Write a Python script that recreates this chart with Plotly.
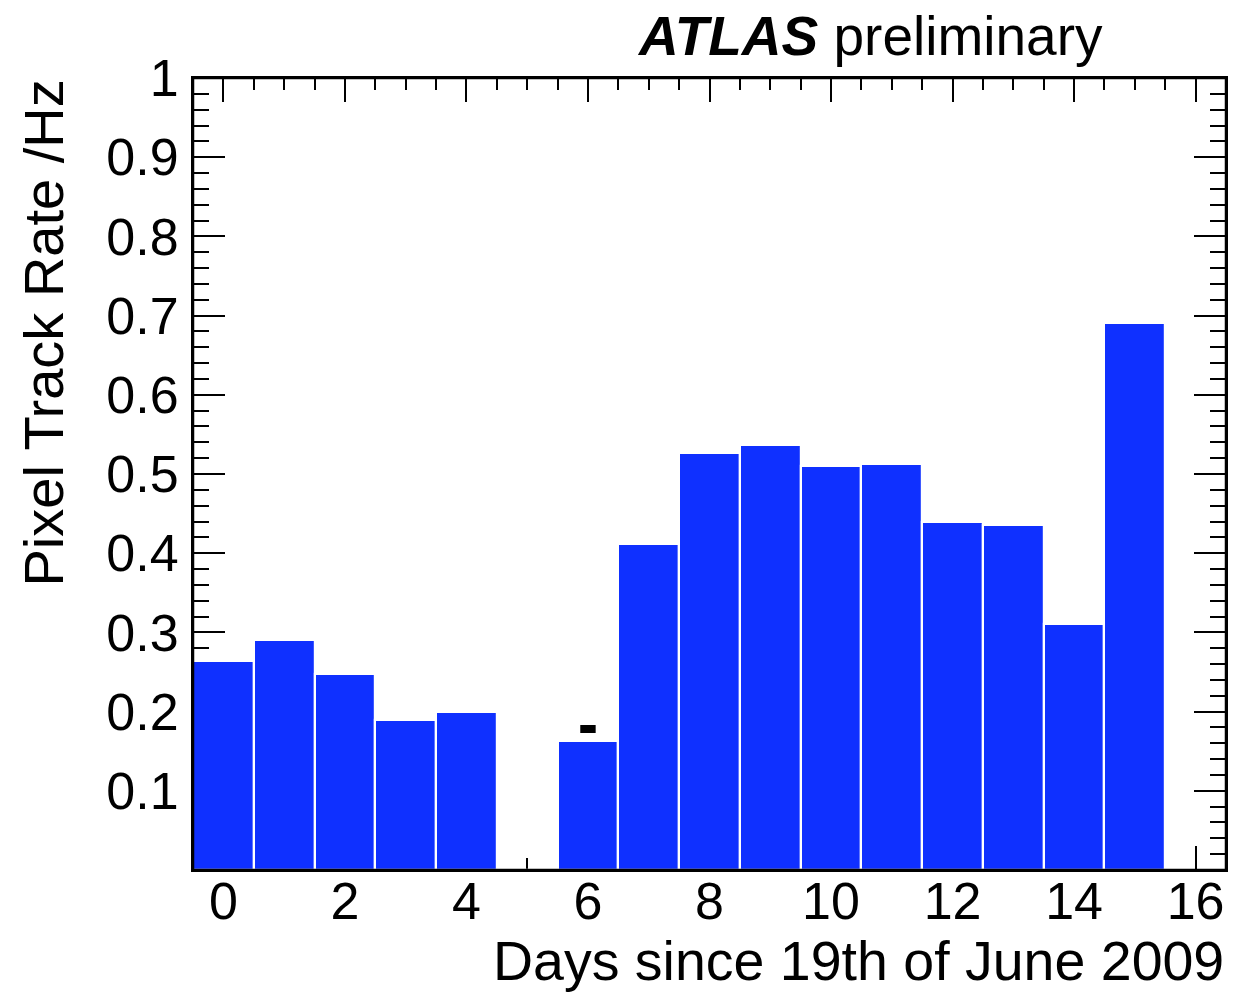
import plotly.graph_objects as go

# Daily pixel track rate (Hz) per day since 19 June 2009
days = [0, 1, 2, 3, 4, 5, 6, 7, 8, 9, 10, 11, 12, 13, 14, 15]
rates = [0.264, 0.290, 0.247, 0.190, 0.200, 0.0, 0.163, 0.412,
         0.526, 0.536, 0.510, 0.513, 0.439, 0.436, 0.311, 0.691]

# Single point marker drawn above day 6
point_days = [6]
point_rates = [0.178]

y_tick_vals = [0.1, 0.2, 0.3, 0.4, 0.5, 0.6, 0.7, 0.8, 0.9, 1.0]
y_tick_text = ["0.1", "0.2", "0.3", "0.4", "0.5", "0.6", "0.7", "0.8", "0.9", "1"]
x_tick_vals = [0, 2, 4, 6, 8, 10, 12, 14, 16]

FONT = "Liberation Sans, Arial, Helvetica, sans-serif"
BLUE = "#0f30ff"

fig = go.Figure()
fig.add_trace(go.Bar(
    x=days, y=rates, width=1.0,
    marker=dict(color=BLUE, line=dict(color="white", width=2.2)),
    showlegend=False, hoverinfo="x+y",
))
fig.add_trace(go.Scatter(
    x=point_days, y=point_rates, mode="markers",
    marker=dict(symbol="line-ew", size=11, line=dict(color="black", width=8)),
    showlegend=False,
))

fig.update_layout(
    width=1249, height=994,
    margin=dict(l=193, r=23, t=78, b=124),
    paper_bgcolor="white", plot_bgcolor="white",
    bargap=0,
    font=dict(family=FONT, color="black", size=52),
    xaxis=dict(
        range=[-0.5, 16.5], showgrid=False, zeroline=False,
        tickmode="array", tickvals=x_tick_vals,
        ticks="inside", ticklen=24, tickwidth=2, tickcolor="black",
        minor=dict(dtick=0.5, tick0=0, ticks="inside", ticklen=12,
                   tickwidth=2, tickcolor="black"),
        mirror="ticks", showline=True, linecolor="black", linewidth=2,
        layer="below traces",
        tickfont=dict(size=52, family=FONT),
        ticklabelstandoff=-15,
    ),
    yaxis=dict(
        range=[0, 1], showgrid=False, zeroline=False,
        tickmode="array", tickvals=y_tick_vals, ticktext=y_tick_text,
        ticks="inside", ticklen=32, tickwidth=2, tickcolor="black",
        minor=dict(dtick=0.02, tick0=0, ticks="inside", ticklen=16,
                   tickwidth=2, tickcolor="black"),
        mirror="ticks", showline=True, linecolor="black", linewidth=2,
        layer="below traces",
        tickfont=dict(size=52, family=FONT),
        ticklabelstandoff=2,
    ),
    shapes=[dict(type="rect", xref="paper", yref="paper", x0=0, x1=1, y0=0, y1=1,
                 line=dict(color="black", width=2.5), layer="above")],
    annotations=[
        dict(text="<b><i>ATLAS</i></b> preliminary", xref="paper", yref="paper",
             x=0.883, y=1.0, xanchor="right", yanchor="bottom", yshift=9,
             showarrow=False, font=dict(size=55, family=FONT)),
        dict(text="Days since 19th of June 2009", xref="paper", yref="paper",
             x=1.0, y=0, xanchor="right", yanchor="top", yshift=-58,
             showarrow=False, font=dict(size=55.5, family=FONT)),
        dict(text="Pixel Track Rate /Hz", xref="paper", yref="paper",
             x=0, y=1.0, xanchor="center", yanchor="top", xshift=-150,
             textangle=-90, showarrow=False, font=dict(size=56, family=FONT)),
    ],
)

fig.write_html("out.html")
